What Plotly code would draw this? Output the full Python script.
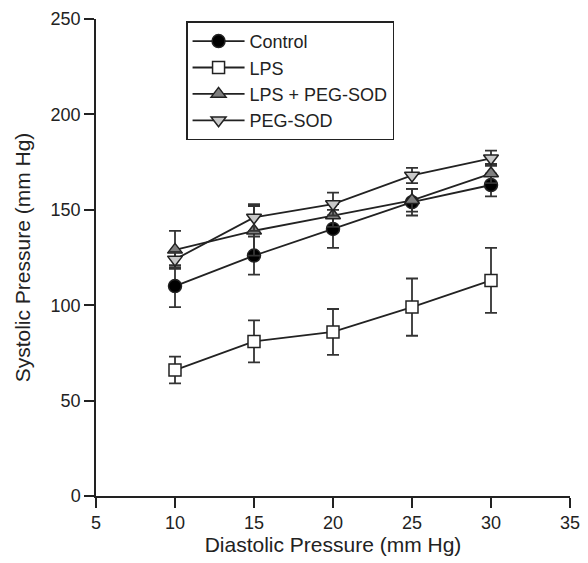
import plotly.graph_objects as go

diastolic = [10, 15, 20, 25, 30]

control = [110, 126, 140, 154, 163]
control_err = [11, 10, 10, 7, 6]

lps = [66, 81, 86, 99, 113]
lps_err = [7, 11, 12, 15, 17]

lps_pegsod = [129, 139, 147, 155, 169]
lps_pegsod_err = [10, 13, 6, 6, 5]

pegsod = [124, 146, 153, 168, 177]
pegsod_err = [4, 7, 6, 4, 4]

series = [
    ("Control", control, control_err, "circle", "black", 13),
    ("LPS", lps, lps_err, "square", "white", 12),
    ("LPS + PEG-SOD", lps_pegsod, lps_pegsod_err, "triangle-up", "#7f7f7f", 13),
    ("PEG-SOD", pegsod, pegsod_err, "triangle-down", "#c8c8c8", 13),
]

fig = go.Figure()
for name, vals, errs, sym, fill, size in series:
    fig.add_trace(go.Scatter(
        x=diastolic, y=vals, name=name, mode="lines+markers",
        line=dict(color="#222222", width=1.8),
        marker=dict(symbol=sym, size=size, color=fill,
                    line=dict(color="#222222", width=1.5)),
        error_y=dict(type="data", array=errs, visible=True,
                     color="#333333", thickness=1.8, width=6),
    ))

font = "Liberation Sans, Arial, sans-serif"
fig.update_layout(
    width=580, height=555,
    margin=dict(l=88, r=18, t=11, b=67, autoexpand=False),
    plot_bgcolor="white", paper_bgcolor="white",
    font=dict(family=font, size=18, color="#222222"),
    showlegend=True,
    legend=dict(x=0.19, y=0.995, xanchor="left", yanchor="top",
                bordercolor="#222222", borderwidth=1.5,
                font=dict(size=18, family=font), tracegroupgap=0,
                itemwidth=52, bgcolor="white"),
    xaxis=dict(range=[5, 35], tickvals=[5, 10, 15, 20, 25, 30, 35],
               showgrid=False, zeroline=False, showline=True,
               linecolor="#222222", linewidth=1.5,
               ticks="outside", ticklen=10, tickwidth=1.5, tickcolor="#222222",
               tickfont=dict(size=18),
               title=dict(text="Diastolic Pressure (mm Hg)", font=dict(size=21), standoff=0)),
    yaxis=dict(range=[0, 250], tickvals=[0, 50, 100, 150, 200, 250],
               showgrid=False, zeroline=False, showline=True,
               linecolor="#222222", linewidth=1.5,
               ticks="outside", ticklen=10, tickwidth=1.5, tickcolor="#222222",
               tickfont=dict(size=18),
               title=dict(text="Systolic Pressure (mm Hg)", font=dict(size=21), standoff=14)),
)

fig.write_html("out.html")
